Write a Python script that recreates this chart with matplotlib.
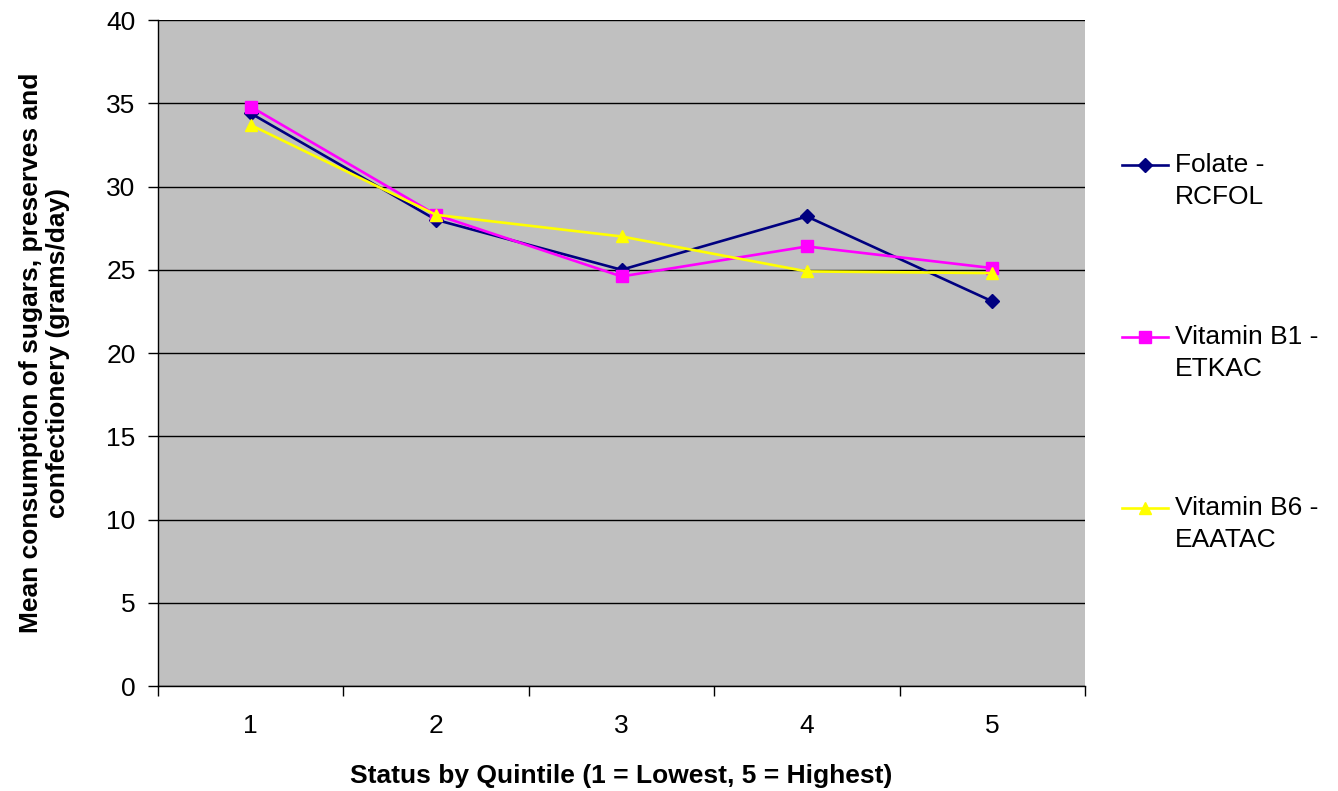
import matplotlib
matplotlib.use('Agg')
import matplotlib.pyplot as plt
from matplotlib.lines import Line2D

plt.rcParams['font.family'] = ['Liberation Sans', 'DejaVu Sans']

quintiles = [1, 2, 3, 4, 5]
folate = [34.4, 28.0, 25.0, 28.2, 23.1]
vit_b1 = [34.8, 28.3, 24.6, 26.4, 25.1]
vit_b6 = [33.7, 28.3, 27.0, 24.9, 24.8]

series = [
    ("Folate -", "RCFOL", folate, '#000080', 'D', 7),
    ("Vitamin B1 -", "ETKAC", vit_b1, '#FF00FF', 's', 8.5),
    ("Vitamin B6 -", "EAATAC", vit_b6, '#FFFF00', '^', 8.5),
]
FS = 19

fig = plt.figure(figsize=(13.38, 7.91), dpi=100)
ax = fig.add_axes([0.118, 0.1327, 0.693, 0.842])
ax.set_facecolor('#C0C0C0')

for l1, l2, vals, col, mk, ms in series:
    ax.plot(quintiles, vals, color=col, marker=mk, markersize=ms, linewidth=1.9, zorder=3)

ax.set_xlim(0.5, 5.5)
ax.set_ylim(0, 40)
ax.set_yticks(range(0, 41, 5))
ax.set_xticks(quintiles)
ax.set_xticks([q - 0.5 for q in quintiles] + [5.5], minor=True)
ax.tick_params(axis='x', which='major', length=0, pad=20, labelsize=FS)
ax.tick_params(axis='x', which='minor', length=7, direction='out', width=1)
ax.tick_params(axis='y', length=7, direction='out', width=1, pad=9, labelsize=FS)
ax.yaxis.grid(True, color='black', linewidth=1)
ax.set_axisbelow(True)
for s in ['top', 'right']:
    ax.spines[s].set_visible(False)
ax.spines['left'].set_linewidth(1)
ax.spines['bottom'].set_linewidth(1)

ax.set_xlabel('Status by Quintile (1 = Lowest, 5 = Highest)', fontsize=FS,
              fontweight='bold', labelpad=19)
ax.set_ylabel('Mean consumption of sugars, preserves and\nconfectionery (grams/day)',
              fontsize=FS, fontweight='bold', labelpad=26, linespacing=1.15)

# legend drawn by hand so the marker sits on the first text line
W, H = 1338, 791
ys = [165, 337, 508]
for (l1, l2, vals, col, mk, ms), y in zip(series, ys):
    fy = 1 - y / H
    fig.add_artist(Line2D([1122 / W, 1168 / W], [fy, fy], color=col, linewidth=1.9,
                          transform=fig.transFigure))
    fig.add_artist(Line2D([1145 / W], [fy], color=col, marker=mk, markersize=ms,
                          transform=fig.transFigure))
    fig.text(1175 / W, fy, l1, fontsize=FS, va='center', ha='left')
    fig.text(1175 / W, 1 - (y + 32) / H, l2, fontsize=FS, va='center', ha='left')

fig.savefig('out.png', dpi=100)
